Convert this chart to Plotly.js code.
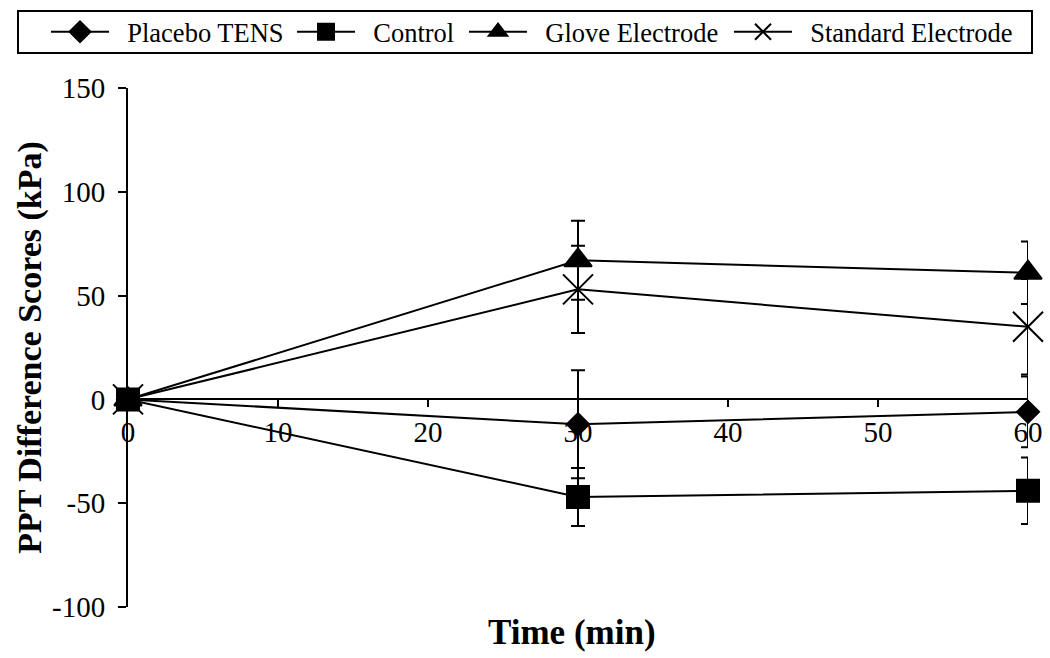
<!DOCTYPE html>
<html>
<head>
<meta charset="utf-8">
<script src="https://cdn.plot.ly/plotly-3.0.1.min.js"></script>
<style>
  html, body { margin: 0; padding: 0; background: #fff; }
  #chart { width: 1050px; height: 658px; }
</style>
</head>
<body>
<div id="chart"></div>
<script>
// time points (min)
const times = [0, 30, 60];

// mean PPT difference scores (kPa) and error bars
const placeboTens = [0, -12, -6];
const placeboErr = [0, 26, 17];
const control = [0, -47, -44];
const controlErr = [0, 14, 16];
const gloveElectrode = [0, 67, 61];
const gloveErr = [0, 19, 15];
const standardElectrode = [0, 53, 35];
const standardErr = [0, 21, 23];

const xTicks = [0, 10, 20, 30, 40, 50, 60];
const yTicks = [-100, -50, 0, 50, 100, 150];

const serif = 'Liberation Serif, Times New Roman, serif';
const nb = '\u00A0';

// plot area in pixels, used to place the legend row above it
const W = 1050, H = 658;
const M = { l: 128, r: 22, t: 88, b: 51 };
const pw = W - M.l - M.r, ph = H - M.t - M.b;
const px = x => (x - M.l) / pw;
const py = y => (H - M.b - y) / ph;

function series(name, y, err, symbol, size, legendId) {
    return {
        x: times,
        y: y,
        name: nb + nb + name,
        legend: legendId,
        type: 'scatter',
        mode: 'lines+markers',
        line: { color: 'black', width: 2 },
        marker: {
            symbol: symbol,
            size: size,
            color: 'black',
            line: { color: 'black', width: 2 }
        },
        error_y: {
            type: 'data',
            array: err,
            visible: true,
            color: 'black',
            thickness: 2,
            width: 7
        },
        cliponaxis: false
    };
}

// control drawn last so its square sits on top at t = 0
const data = [
    series('Standard Electrode', standardElectrode, standardErr, 'x-thin-open', 30, 'legend4'),
    series('Glove Electrode', gloveElectrode, gloveErr, 'triangle-up', 24, 'legend3'),
    series('Placebo TENS', placeboTens, placeboErr, 'diamond', 17, 'legend'),
    series('Control', control, controlErr, 'square', 22, 'legend2')
];

// one small legend per entry so each sits where the original has it
function legendAt(left) {
    return {
        orientation: 'h',
        xref: 'paper',
        yref: 'paper',
        x: px(left),
        xanchor: 'left',
        y: py(32),
        yanchor: 'middle',
        itemwidth: 58,
        borderwidth: 0,
        bgcolor: 'rgba(0,0,0,0)',
        font: { family: serif, size: 26.5, color: 'black' }
    };
}

const layout = {
    width: W,
    height: H,
    margin: { l: M.l, r: M.r, t: M.t, b: M.b, autoexpand: false },
    paper_bgcolor: 'white',
    plot_bgcolor: 'white',
    font: { family: serif, size: 29, color: 'black' },
    showlegend: true,
    legend: legendAt(46),
    legend2: legendAt(292),
    legend3: legendAt(464),
    legend4: legendAt(729),
    shapes: [{
        type: 'rect',
        xref: 'paper',
        yref: 'paper',
        x0: px(18), x1: px(1032),
        y0: py(53), y1: py(11),
        line: { color: 'black', width: 2 },
        fillcolor: 'rgba(0,0,0,0)'
    }],
    xaxis: {
        range: [0, 60],
        tickvals: xTicks,
        ticktext: xTicks.map(String),
        anchor: 'free',
        position: 0.4,
        showline: true,
        linecolor: 'black',
        linewidth: 2,
        ticks: 'outside',
        ticklen: 7,
        tickwidth: 2,
        tickcolor: 'black',
        ticklabelstandoff: 0,
        showgrid: false,
        zeroline: false,
        tickfont: { family: serif, size: 29, color: 'black' }
    },
    yaxis: {
        range: [-100, 150],
        tickvals: yTicks,
        ticktext: yTicks.map(String),
        showline: true,
        linecolor: 'black',
        linewidth: 2,
        ticks: 'outside',
        ticklen: 8,
        tickwidth: 2,
        tickcolor: 'black',
        ticklabelstandoff: 7,
        showgrid: false,
        zeroline: false,
        tickfont: { family: serif, size: 29, color: 'black' },
        title: {
            text: '<b>PPT Difference Scores (kPa)</b>',
            font: { family: serif, size: 34, color: 'black' },
            standoff: 0
        }
    },
    annotations: [{
        text: '<b>Time (min)</b>',
        xref: 'paper',
        yref: 'paper',
        x: 0.493,
        y: py(632),
        xanchor: 'center',
        yanchor: 'middle',
        showarrow: false,
        font: { family: serif, size: 35, color: 'black' }
    }]
};

Plotly.newPlot('chart', data, layout, { displayModeBar: false, staticPlot: true });
</script>
</body>
</html>
